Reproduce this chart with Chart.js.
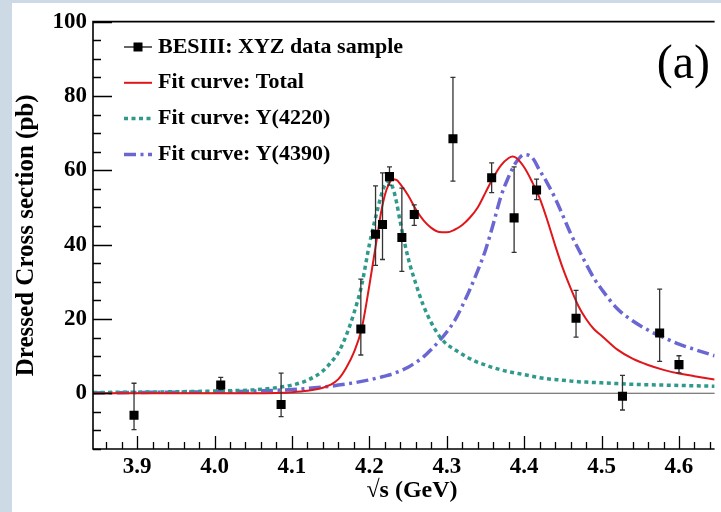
<!DOCTYPE html>
<html>
<head>
<meta charset="utf-8">
<title>Dressed cross section</title>
<script src="https://cdn.jsdelivr.net/npm/chart.js@4.4.1/dist/chart.umd.min.js"></script>
<style>
  body { margin: 0; background: #cdd9e5; }
  #wrap { position: absolute; left: 12px; top: 3px; width: 709px; height: 509px; background: #fff; }
</style>
</head>
<body>
<div id="wrap"><canvas id="chart" width="709" height="509"></canvas></div>
<script>
// BESIII data: c.m. energy (GeV), dressed cross section (pb), upper / lower errors
const energies = [3.896, 4.008, 4.086, 4.189, 4.208, 4.217, 4.226, 4.242, 4.258,
                  4.308, 4.358, 4.387, 4.416, 4.467, 4.527, 4.575, 4.600];
const xsec     = [-5.9, 2.2, -3.0, 17.3, 42.8, 45.4, 58.3, 41.9, 48.1,
                  68.5, 58.0, 47.2, 54.7, 20.2, -0.8, 16.2, 7.7];
const errHigh  = [8.6, 2.1, 8.4, 13.4, 13.0, 13.9, 2.6, 13.3, 2.6,
                  16.5, 4.0, 13.7, 2.9, 7.5, 5.6, 11.8, 2.4];
const errLow   = [3.9, 1.2, 3.3, 7.0, 8.4, 9.4, 2.3, 9.1, 2.9,
                  11.4, 4.0, 9.3, 2.6, 5.1, 3.7, 7.6, 2.2];

// fit curves, sampled on one energy grid
const fitEnergies = [
  3.843, 3.90, 3.95, 4.00, 4.05, 4.08, 4.10, 4.12,
  4.14, 4.15, 4.16, 4.17, 4.18, 4.19, 4.20, 4.21,
  4.215, 4.22, 4.225, 4.23, 4.235, 4.24, 4.25, 4.26,
  4.27, 4.28, 4.29, 4.30, 4.31, 4.32, 4.33, 4.34,
  4.35, 4.36, 4.37, 4.38, 4.385, 4.39, 4.40, 4.41,
  4.42, 4.43, 4.44, 4.45, 4.46, 4.47, 4.48, 4.49,
  4.50, 4.52, 4.54, 4.56, 4.58, 4.60, 4.62, 4.646];
const fitTotal = [
  0, 0, 0, 0, 0, 0.1, 0.3, 0.7,
  1.5, 2.3, 3.8, 6.8, 11, 17.3, 29, 42,
  48.5, 53.3, 56.2, 57.6, 57.4, 56.3, 53.3, 49.5,
  46.5, 44.5, 43.4, 43.3, 44, 45.3, 47.3, 50,
  54, 58, 61.3, 63.3, 63.7, 63.3, 60.8, 57,
  52.5, 46.5, 39.8, 33.6, 28.3, 23.5, 20, 17.3,
  15.5, 11.8, 9.3, 7.6, 6.3, 5.3, 4.6, 3.7];
const fitY4220 = [
  0.2, 0.3, 0.4, 0.6, 0.9, 1.5, 2.2, 3.5,
  6.0, 8.2, 11, 15.5, 21.5, 29, 40, 49,
  53, 56, 57, 55.5, 51.5, 46, 36.5, 29.5,
  23.5, 19, 15.5, 13.2, 11.8, 10.5, 9.3, 8.3,
  7.6, 6.9, 6.3, 5.8, 5.6, 5.4, 5.0, 4.6,
  4.2, 3.9, 3.7, 3.5, 3.3, 3.1, 3.0, 2.9,
  2.8, 2.6, 2.4, 2.3, 2.2, 2.1, 2.0, 1.9];
const fitY4390 = [
  0.1, 0.2, 0.3, 0.4, 0.6, 0.8, 1.0, 1.3,
  1.7, 1.9, 2.2, 2.5, 2.8, 3.2, 3.6, 4.1,
  4.35, 4.6, 4.9, 5.2, 5.6, 6.0, 7.0, 8.3,
  9.8, 11.8, 14, 16.5, 19.5, 23.5, 28, 33,
  38.5, 45.5, 53, 58.3, 60.5, 62.3, 64.2, 63.5,
  60, 56.5, 52.5, 47.8, 43, 38.8, 34.8, 31,
  28, 22.8, 19.5, 17, 15, 13.2, 11.8, 10.1];

const xTicks = [3.9, 4.0, 4.1, 4.2, 4.3, 4.4, 4.5, 4.6];
const yTicks = [0, 20, 40, 60, 80, 100];

const serif = "'Liberation Serif', 'Times New Roman', serif";

function toPoints(xs, ys) {
  return xs.map((x, i) => ({x: x, y: ys[i]}));
}

// vertical error bars with small caps, drawn just under the markers
const errorBars = {
  id: 'errorBars',
  beforeDatasetDraw(chart, args) {
    if (args.index !== 0) return;
    const {ctx, scales: {x, y}} = chart;
    ctx.save();
    ctx.strokeStyle = '#333';
    ctx.lineWidth = 1.3;
    energies.forEach((e, i) => {
      const px = x.getPixelForValue(e);
      const top = y.getPixelForValue(xsec[i] + errHigh[i]);
      const bot = y.getPixelForValue(xsec[i] - errLow[i]);
      ctx.beginPath();
      ctx.moveTo(px, top); ctx.lineTo(px, bot);
      ctx.moveTo(px - 2.5, top); ctx.lineTo(px + 2.5, top);
      ctx.moveTo(px - 2.5, bot); ctx.lineTo(px + 2.5, bot);
      ctx.stroke();
    });
    ctx.restore();
  }
};

// zero line, then the frame with inward ticks
const frame = {
  id: 'frame',
  beforeDatasetsDraw(chart) {
    const {ctx, chartArea: a, scales: {y}} = chart;
    const y0 = y.getPixelForValue(0);
    ctx.save();
    ctx.strokeStyle = '#555';
    ctx.lineWidth = 1.2;
    ctx.beginPath();
    ctx.moveTo(a.left, y0); ctx.lineTo(a.right, y0);
    ctx.stroke();
    ctx.restore();
  },
  afterDatasetsDraw(chart) {
    const {ctx, chartArea: a, scales: {x, y}} = chart;
    ctx.save();
    ctx.strokeStyle = '#000';
    ctx.lineWidth = 1.6;
    ctx.beginPath();
    ctx.moveTo(a.right, a.top); ctx.lineTo(a.left, a.top);
    ctx.lineTo(a.left, a.bottom); ctx.lineTo(a.right, a.bottom);
    ctx.stroke();

    ctx.lineWidth = 1.3;
    ctx.beginPath();
    for (let v = -15; v <= 100; v += 5) {
      const py = Math.round(y.getPixelForValue(v)) + 0.5;
      const len = v % 20 === 0 ? 19 : 8;
      ctx.moveTo(a.left, py); ctx.lineTo(a.left + len, py);
    }
    for (let k = 0; ; k++) {
      const v = 3.86 + k * 0.02;
      if (v > x.max) break;
      const px = Math.round(x.getPixelForValue(v)) + 0.5;
      const len = k % 5 === 2 ? 13 : 7;
      ctx.moveTo(px, a.bottom); ctx.lineTo(px, a.bottom - len);
    }
    ctx.stroke();
    ctx.restore();
  }
};

// legend in the upper left of the frame, panel tag and energy axis title
const insideLegend = {
  id: 'insideLegend',
  afterDraw(chart) {
    const {ctx} = chart;
    const x0 = 112, x1 = 140, tx = 146;
    ctx.save();
    ctx.font = 'bold 22px ' + serif;
    ctx.textBaseline = 'middle';
    ctx.fillStyle = '#000';
    chart.data.datasets.forEach((ds, i) => {
      const ly = 44 + i * 35.8;
      ctx.save();
      ctx.strokeStyle = ds.borderColor;
      ctx.lineWidth = ds.borderWidth;
      ctx.setLineDash(ds.borderDash || []);
      ctx.beginPath();
      ctx.moveTo(x0, ly); ctx.lineTo(x1, ly);
      ctx.stroke();
      if (ds.pointRadius > 0) {
        ctx.fillStyle = ds.pointBackgroundColor;
        ctx.fillRect((x0 + x1) / 2 - 4.5, ly - 4.5, 9, 9);
      }
      ctx.restore();
      ctx.fillText(ds.label, tx, ly);
    });

    ctx.font = 'bold 24px ' + serif;
    ctx.textAlign = 'center';
    ctx.fillText('√s (GeV)', 400, 488);

    ctx.font = '48px ' + serif;
    ctx.textAlign = 'right';
    ctx.textBaseline = 'alphabetic';
    ctx.fillText('(a)', 698, 75);
    ctx.restore();
  }
};

const ctx = document.getElementById('chart').getContext('2d');
const chart = new Chart(ctx, {
  type: 'scatter',
  data: {
    datasets: [{
      label: 'BESIII: XYZ data sample',
      data: toPoints(energies, xsec),
      pointStyle: 'rect',
      pointRadius: 6.4,
      pointBackgroundColor: '#000',
      pointBorderWidth: 0,
      borderColor: '#111',
      borderWidth: 1.3,
      showLine: false
    }, {
      label: 'Fit curve: Total',
      data: toPoints(fitEnergies, fitTotal),
      showLine: true,
      borderColor: '#e0161b',
      borderWidth: 2,
      pointRadius: 0,
      cubicInterpolationMode: 'monotone'
    }, {
      label: 'Fit curve: Y(4220)',
      data: toPoints(fitEnergies, fitY4220),
      showLine: true,
      borderColor: '#2f9a8c',
      borderWidth: 3.5,
      borderDash: [4, 3.5],
      borderCapStyle: 'butt',
      pointRadius: 0,
      cubicInterpolationMode: 'monotone'
    }, {
      label: 'Fit curve: Y(4390)',
      data: toPoints(fitEnergies, fitY4390),
      showLine: true,
      borderColor: '#6a67d3',
      borderWidth: 3.5,
      borderDash: [12, 4.5, 3, 4.5],
      borderCapStyle: 'butt',
      pointRadius: 0,
      cubicInterpolationMode: 'monotone'
    }]
  },
  options: {
    responsive: false,
    animation: false,
    events: [],
    layout: { padding: { top: 13, left: 0, right: 0, bottom: 0 } },
    plugins: {
      legend: { display: false },
      tooltip: { enabled: false }
    },
    scales: {
      x: {
        type: 'linear',
        min: 3.843,
        max: 4.646,
        grid: { display: false, drawTicks: false },
        border: { display: false },
        afterBuildTicks: (scale) => { scale.ticks = xTicks.map(v => ({value: v})); },
        afterFit: (scale) => { scale.height = 63; },
        ticks: {
          color: '#000',
          padding: 4,
          maxRotation: 0,
          autoSkip: false,
          font: { family: serif, size: 23, weight: 'bold', lineHeight: 1.2 },
          callback: (v) => v.toFixed(1)
        }
      },
      y: {
        min: -15,
        max: 100,
        grid: { display: false, drawTicks: false },
        border: { display: false },
        afterBuildTicks: (scale) => { scale.ticks = yTicks.map(v => ({value: v})); },
        afterFit: (scale) => { scale.width = 81; },
        ticks: {
          color: '#000',
          padding: 6,
          font: { family: serif, size: 23, weight: 'bold', lineHeight: 1.1 }
        },
        title: {
          display: true,
          text: 'Dressed Cross section (pb)',
          color: '#000',
          font: { family: serif, size: 25, weight: 'bold' },
          padding: { top: 0, bottom: 0 }
        }
      }
    }
  },
  plugins: [errorBars, frame, insideLegend]
});
</script>
</body>
</html>
